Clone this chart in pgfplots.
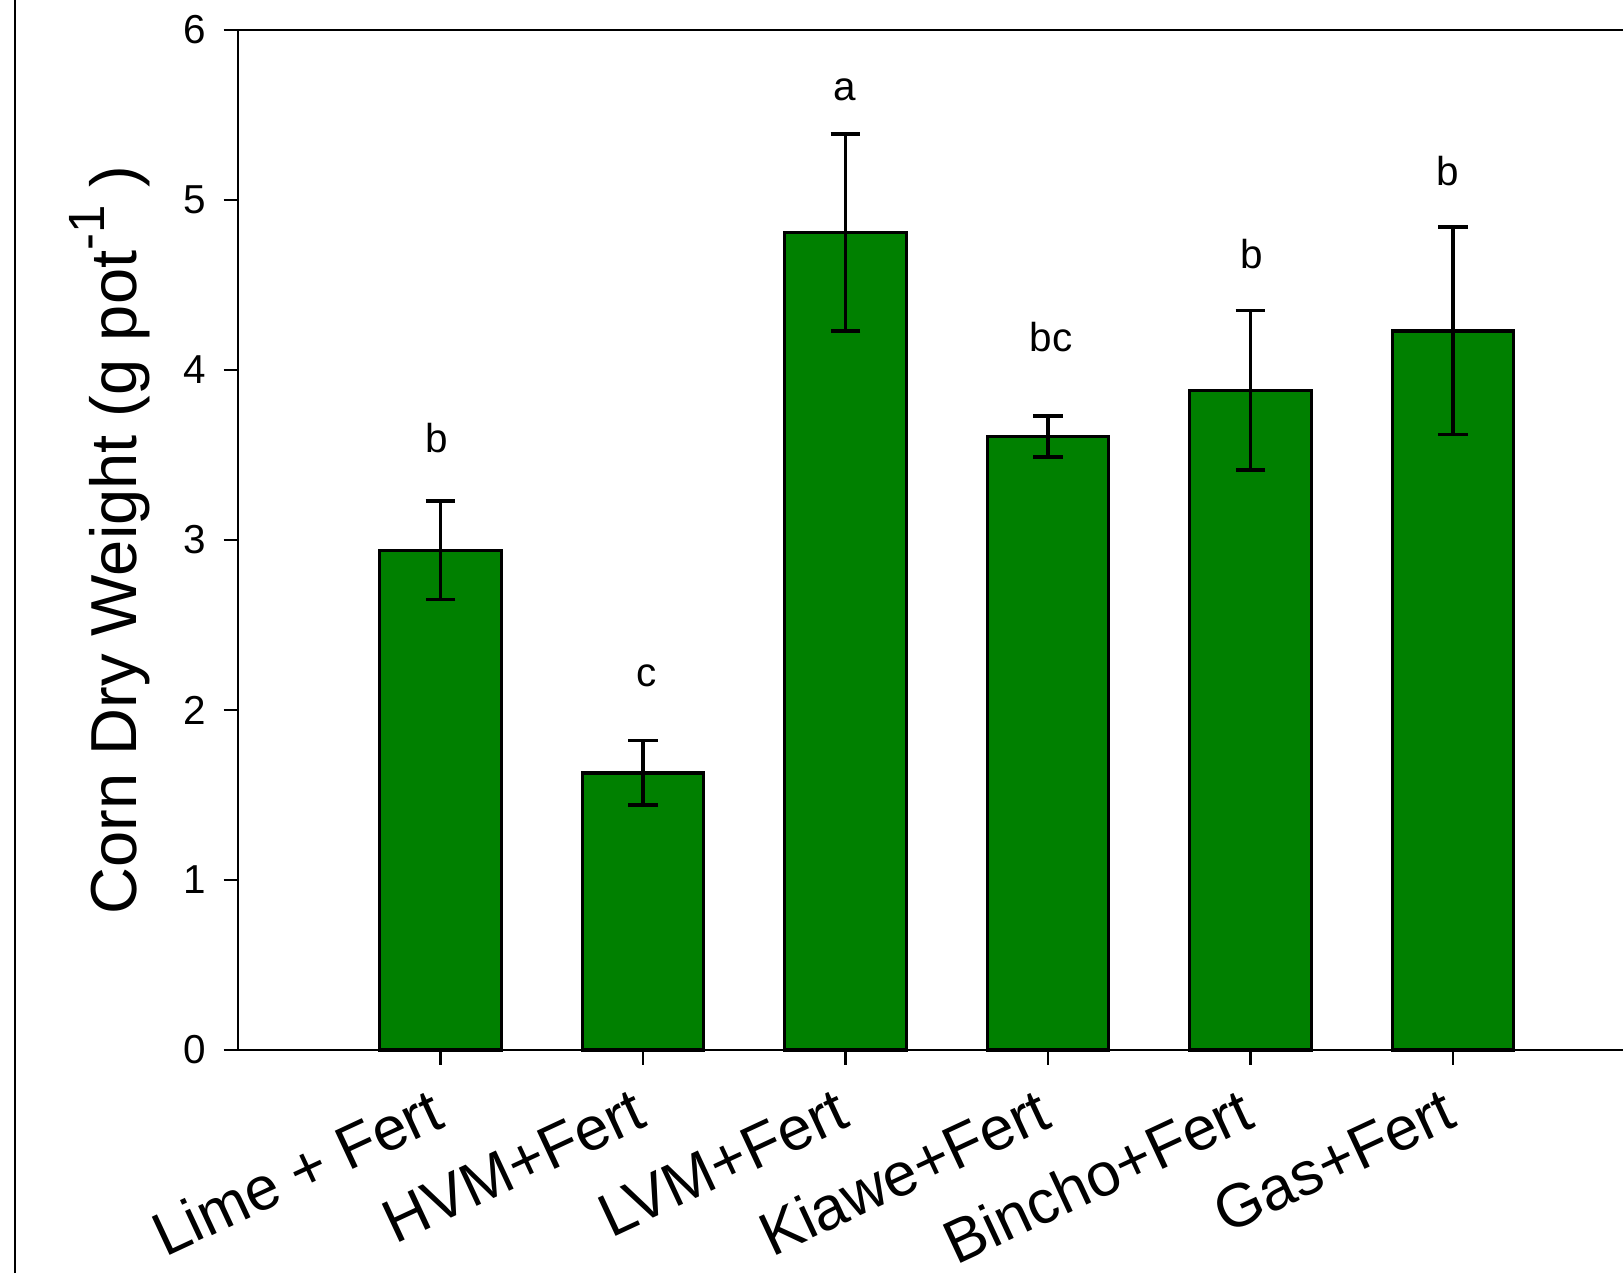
\documentclass[border=0pt]{standalone}
\usepackage{pgfplots}
\pgfplotsset{compat=1.18}
\usepackage{fontspec}
\setmainfont{Liberation Sans}
\definecolor{bargreen}{RGB}{0,128,0}

\pgfplotstableread{
x y e
0 2.94 0.29
1 1.63 0.19
2 4.81 0.58
3 3.61 0.12
4 3.88 0.47
5 4.23 0.61
}\datatable

\begin{document}
\begin{tikzpicture}[x=1cm,y=1cm]
\useasboundingbox (0,0) rectangle (16.23,12.73);
\clip (0,0) rectangle (16.23,12.73);
\draw[line width=0.8pt] (0.15,0) -- (0.15,12.73);
\begin{axis}[
  at={(2.38cm,2.23cm)}, anchor=south west,
  scale only axis, width=16.2cm, height=10.2cm,
  xmin=-1, xmax=7, ymin=0, ymax=6,
  ybar, bar width=0.6,
  axis line style={line width=0.85pt},
  xtick={0,1,2,3,4,5},
  xticklabels={Lime + Fert, HVM+Fert, LVM+Fert, Kiawe+Fert, Bincho+Fert, Gas+Fert},
  ytick={0,1,2,3,4,5,6},
  tick align=outside, tick pos=left,
  major tick length=0.145cm,
  tick style={line width=0.85pt, black},
  /pgf/number format/assume math mode=true,
  yticklabel style={font=\fontsize{11.5}{13}\selectfont, anchor=east, inner sep=0pt, xshift=-0.17cm},
  xticklabel style={font=\fontsize{17.4}{19}\selectfont, xshift=0.07cm, yshift=-0.61cm, rotate=25, anchor=base east, inner sep=0pt},
  ylabel={Corn Dry Weight (g pot\raisebox{0.5em}{\fontsize{14.5}{14.5}\selectfont -1} )},
  ylabel style={font=\fontsize{18.5}{20}\selectfont, at={(axis description cs:-0.0626,0.5)}, anchor=base},
  clip=false,
]
\addplot[fill=bargreen, draw=black, line width=0.95pt,
  error bars/.cd, y dir=both, y explicit,
  error bar style={line width=1.05pt, black},
  error mark options={rotate=90, line width=1.05pt, mark size=4.2pt, black}]
  table[x=x, y=y, y error=e] {\datatable};
\node[font=\fontsize{11.5}{12}\selectfont, anchor=base] at (axis cs:-0.02,3.515) {b};
\node[font=\fontsize{11.5}{12}\selectfont, anchor=base] at (axis cs:1.02,2.138) {c};
\node[font=\fontsize{11.5}{12}\selectfont, anchor=base] at (axis cs:1.995,5.586) {a};
\node[font=\fontsize{11.5}{12}\selectfont, anchor=base] at (axis cs:3.015,4.111) {bc};
\node[font=\fontsize{11.5}{12}\selectfont, anchor=base] at (axis cs:4.005,4.599) {b};
\node[font=\fontsize{11.5}{12}\selectfont, anchor=base] at (axis cs:4.975,5.086) {b};
\end{axis}
\end{tikzpicture}
\end{document}
